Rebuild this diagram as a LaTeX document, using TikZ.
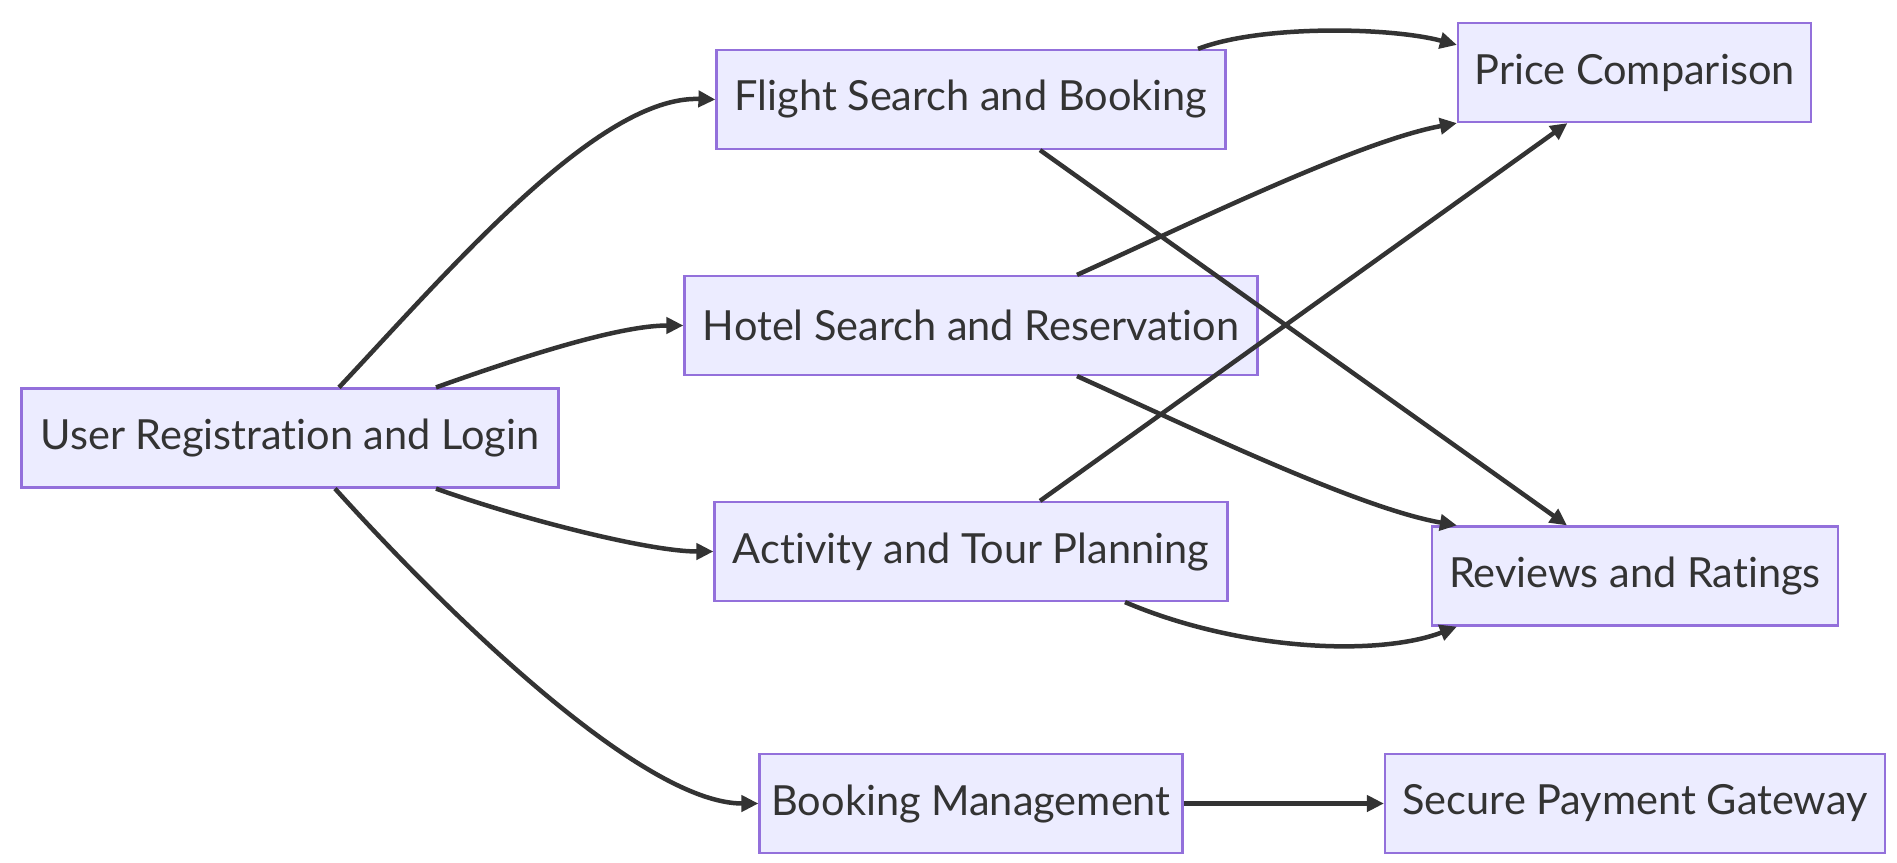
\documentclass[tikz,border=0pt]{standalone}
\usepackage{fontspec}
\setmainfont{Lato}[Ligatures={NoCommon,NoRequired,NoContextual}]
\usetikzlibrary{calc,arrows.meta}
\definecolor{nodefill}{HTML}{ECECFF}
\definecolor{nodeborder}{HTML}{9370DB}
\definecolor{ink}{HTML}{333333}
\tikzset{
  box/.style={draw=nodeborder, fill=nodefill, line width=2.2pt, minimum height=99pt,
    inner sep=0pt, text=ink, font=\fontsize{41.5}{48}\selectfont},
  link/.style={draw=ink, line width=4.5pt, -{Triangle[length=17pt,width=16pt]}},
}
\begin{document}
\begin{tikzpicture}[x=1pt,y=-1pt]
\useasboundingbox (0,0) rectangle (1897,862);
\node[box, minimum width=537pt] (user) at (290,438) {User Registration and Login};
\node[box, minimum width=509pt] (flight) at (971,99.5) {Flight Search and Booking};
\node[box, minimum width=573pt] (hotel) at (971,325.5) {Hotel Search and Reservation};
\node[box, minimum width=513pt] (activity) at (971,551.5) {Activity and Tour Planning};
\node[box, minimum width=423pt] (booking) at (971,803.5) {Booking Management};
\node[box, minimum width=353pt] (price) at (1634.5,72.5) {Price Comparison};
\node[box, minimum width=406pt] (reviews) at (1635,576) {Reviews and Ratings};
\node[box, minimum width=500pt] (secure) at (1635,803.5) {Secure Payment Gateway};

\draw[link] ($(user.north)+(49,0)$) .. controls +(111,-118) and +(-117,-4) .. (flight.west);
\draw[link] ($(user.north)+(146,0)$) .. controls +(84,-30) and +(-65,0) .. (hotel.west);
\draw[link] ($(user.south)+(146,0)$) .. controls +(84,30) and +(-65,0) .. (activity.west);
\draw[link] ($(user.south)+(45,0)$) .. controls +(110,122) and +(-117,0) .. (booking.west);
\draw[link] ($(flight.north)+(227,0)$) .. controls +(62,-24) and +(-68,-18) .. ($(price.north west)+(0,23)$);
\draw[link] ($(flight.south)+(69,0)$) -- ($(reviews.north)+(-68,0)$);
\draw[link] ($(hotel.north)+(106,0)$) .. controls +(113,-51) and +(-98,18) .. (price.south west);
\draw[link] ($(hotel.south)+(106,0)$) .. controls +(113,51) and +(-98,-17) .. ($(reviews.north west)+(26,0)$);
\draw[link] ($(activity.north)+(69,0)$) -- ($(price.south)+(-67,0)$);
\draw[link] ($(activity.south)+(154,0)$) .. controls +(115,49) and +(-78,30) .. ($(reviews.south west)+(26,0)$);
\draw[link] (booking.east) -- (secure.west);
\end{tikzpicture}
\end{document}
